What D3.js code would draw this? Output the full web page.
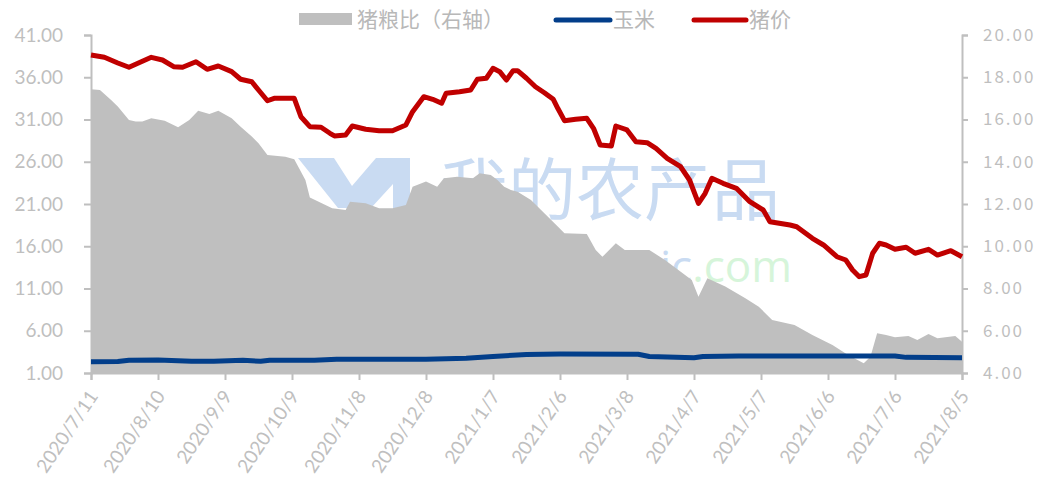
<!DOCTYPE html>
<html>
<head>
<meta charset="utf-8">
<script src="https://cdn.jsdelivr.net/npm/d3@7"></script>
<style>
  html, body { margin: 0; padding: 0; background: #fff; }
  svg { display: block; }
</style>
</head>
<body>
<svg id="chart" width="1048" height="489"></svg>
<script>
const xTickLabels = ['2020/7/11', '2020/8/10', '2020/9/9', '2020/10/9', '2020/11/8', '2020/12/8', '2021/1/7',
  '2021/2/6', '2021/3/8', '2021/4/7', '2021/5/7', '2021/6/6', '2021/7/6', '2021/8/5'];
const leftTicks = [1, 6, 11, 16, 21, 26, 31, 36, 41];
const rightTicks = [4, 6, 8, 10, 12, 14, 16, 18, 20];

// days counted from 2020/7/11
const pigDay = [0, 6, 12, 17, 21, 27, 32, 37, 41, 47, 52, 57, 63, 67, 72, 75, 79, 82, 91, 94,
  98, 103, 107, 109, 114, 117, 123, 129, 135, 141, 144, 149, 153, 157, 159, 165, 170, 173, 177, 180,
  183, 186, 189, 191, 195, 199, 203, 207, 209, 212, 217, 222, 225, 228, 233, 235, 240, 244, 249, 253,
  258, 264, 268, 272, 275, 278, 283, 289, 295, 301, 304, 313, 316, 323, 328, 334, 338, 341, 344, 347,
  350, 353, 356, 360, 365, 369, 375, 379, 385, 390];
const pigPrice = [38.63, 38.36, 37.69, 37.18, 37.65, 38.36, 38.04, 37.25, 37.18, 37.84, 36.94, 37.33, 36.66, 35.76, 35.47, 34.49, 33.22, 33.51, 33.51, 31.33,
  30.15, 30.08, 29.37, 29.05, 29.17, 30.23, 29.84, 29.67, 29.67, 30.35, 31.92, 33.70, 33.39, 32.92, 34.10, 34.29, 34.49, 35.76, 35.88, 37.06,
  36.66, 35.67, 36.78, 36.78, 35.88, 34.88, 34.17, 33.39, 32.33, 30.86, 31.02, 31.14, 29.96, 27.98, 27.86, 30.23, 29.76, 28.37, 28.25, 27.59,
  26.41, 25.41, 23.84, 21.08, 22.27, 24.04, 23.45, 22.86, 21.27, 20.29, 18.91, 18.51, 18.31, 16.94, 16.15, 14.76, 14.37, 13.19, 12.40, 12.60,
  15.17, 16.35, 16.15, 15.64, 15.88, 15.17, 15.64, 14.96, 15.47, 14.76];

const cornDay = [0, 12, 17, 30, 45, 55, 68, 76, 80, 100, 110, 150, 168, 180, 195, 210, 245, 250, 270, 274, 290, 360, 365, 390];
const cornPrice = [2.34, 2.36, 2.52, 2.54, 2.40, 2.40, 2.52, 2.38, 2.50, 2.50, 2.62, 2.64, 2.74, 2.95, 3.20, 3.25, 3.21, 2.95, 2.80, 2.95, 3.01, 3.01, 2.85, 2.80];

const ratioDay = [0, 4, 9, 12, 17, 20, 23, 27, 33, 39, 44, 48, 53, 57, 63, 67, 72, 75, 79, 87,
  91, 96, 98, 108, 114, 116, 123, 129, 135, 141, 144, 150, 155, 158, 164, 171, 174, 179, 182, 185,
  188, 191, 197, 203, 209, 212, 222, 226, 229, 235, 239, 250, 257, 269, 272, 276, 284, 293, 299, 305,
  315, 323, 332, 339, 346, 349, 352, 356, 360, 366, 370, 375, 379, 387, 390];
const pigGrainRatio = [17.43, 17.40, 16.92, 16.61, 15.98, 15.90, 15.90, 16.06, 15.94, 15.63, 15.98, 16.42, 16.26, 16.42, 16.06, 15.66, 15.19, 14.87, 14.32, 14.24,
  14.12, 13.14, 12.31, 11.80, 11.72, 12.11, 12.03, 11.80, 11.80, 11.95, 12.82, 13.06, 12.82, 13.22, 13.29, 13.22, 13.45, 13.37, 13.14, 12.82,
  12.66, 12.58, 12.19, 11.56, 10.93, 10.61, 10.58, 9.82, 9.50, 10.14, 9.82, 9.82, 9.35, 8.40, 7.61, 8.48, 8.09, 7.54, 7.14, 6.51,
  6.27, 5.80, 5.33, 4.85, 4.46, 4.77, 5.88, 5.80, 5.69, 5.75, 5.56, 5.85, 5.64, 5.75, 5.48];

const parseDate = d3.timeParse('%Y/%m/%d');
const startDate = parseDate(xTickLabels[0]);
const toDate = (n) => d3.timeDay.offset(startDate, n);

const svg = d3.select('#chart');
const plotLeft = 91, plotRight = 962, plotTop = 35, plotBottom = 373;
const axisColor = '#bfbfbf';

const x = d3.scaleTime()
  .domain([startDate, parseDate(xTickLabels[xTickLabels.length - 1])])
  .range([plotLeft, plotRight]);
const yLeft = d3.scaleLinear().domain([1, 41]).range([plotBottom, plotTop]);
const yRight = d3.scaleLinear().domain([4, 20]).range([plotBottom, plotTop]);

// watermark (behind the series)
const wm = svg.append('g').attr('class', 'watermark');
wm.append('path')
  .attr('d', 'M298,158 L334,158 L352,186 L376,158 L410,158 L410,208 L393,208 L393,184 L371,208 L338,208 Z')
  .attr('fill', '#c9dbf2');
wm.append('text')
  .attr('x', 440).attr('y', 215)
  .attr('font-family', 'Noto Sans CJK SC')
  .attr('font-size', 68)
  .attr('fill', '#c9dbf2')
  .text('我的农产品');
const url = wm.append('text')
  .attr('x', 792).attr('y', 282)
  .attr('text-anchor', 'end')
  .attr('font-family', 'Open Sans')
  .attr('font-size', 44)
  .attr('fill', '#c9dbf2');
url.append('tspan').text('www.myagric');
url.append('tspan').attr('fill', '#d6f5da').text('.com');

// 猪粮比 area on right axis
const ratioData = ratioDay.map((d, i) => ({ date: toDate(d), value: pigGrainRatio[i] }));
svg.append('path')
  .datum(ratioData)
  .attr('fill', '#bfbfbf')
  .attr('d', d3.area()
    .x((d) => x(d.date))
    .y0(yRight(4))
    .y1((d) => yRight(d.value)));

// axes
const xAxis = svg.append('g')
  .attr('transform', `translate(0,${plotBottom})`)
  .call(d3.axisBottom(x).tickValues(xTickLabels.map(parseDate)).tickSize(7).tickFormat(''));
xAxis.select('.domain').attr('stroke', axisColor).attr('stroke-width', 2);
xAxis.selectAll('.tick line').attr('stroke', axisColor).attr('stroke-width', 2);

svg.append('g').selectAll('text')
  .data(xTickLabels)
  .enter()
  .append('text')
  .attr('transform', (d) => `translate(${x(parseDate(d)) + 8},${plotBottom + 23}) rotate(-56)`)
  .attr('text-anchor', 'end')
  .attr('font-family', 'Lato')
  .attr('font-size', 19)
  .attr('fill', axisColor)
  .text((d) => d);

const yAxisL = svg.append('g')
  .attr('transform', `translate(${plotLeft},0)`)
  .call(d3.axisLeft(yLeft).tickValues(leftTicks).tickSize(7).tickPadding(21).tickFormat(d3.format('.2f')));
yAxisL.select('.domain').attr('stroke', axisColor).attr('stroke-width', 2);
yAxisL.selectAll('.tick line').attr('stroke', axisColor).attr('stroke-width', 2);
yAxisL.selectAll('.tick text')
  .attr('font-family', 'Lato').attr('font-size', 19).attr('fill', axisColor);

const yAxisR = svg.append('g')
  .attr('transform', `translate(${plotRight},0)`)
  .call(d3.axisRight(yRight).tickValues(rightTicks).tickSize(6).tickPadding(15).tickFormat(d3.format('.2f')));
yAxisR.select('.domain').attr('stroke', axisColor).attr('stroke-width', 2);
yAxisR.selectAll('.tick line').attr('stroke', axisColor).attr('stroke-width', 2);
yAxisR.selectAll('.tick text')
  .attr('font-family', 'Noto Sans CJK SC').attr('font-size', 17)
  .attr('letter-spacing', 2).attr('fill', axisColor);

// lines on left axis
const line = d3.line().x((d) => x(d.date)).y((d) => yLeft(d.value));
const cornData = cornDay.map((d, i) => ({ date: toDate(d), value: cornPrice[i] }));
const pigData = pigDay.map((d, i) => ({ date: toDate(d), value: pigPrice[i] }));

svg.append('path')
  .datum(cornData)
  .attr('fill', 'none')
  .attr('stroke', '#023e8a')
  .attr('stroke-width', 5)
  .attr('stroke-linejoin', 'round')
  .attr('d', line);

svg.append('path')
  .datum(pigData)
  .attr('fill', 'none')
  .attr('stroke', '#c00000')
  .attr('stroke-width', 5)
  .attr('stroke-linejoin', 'round')
  .attr('d', line);

// legend
const legend = svg.append('g').attr('font-family', 'Noto Sans CJK SC').attr('font-size', 21).attr('fill', '#b8b8b8');
legend.append('rect').attr('x', 299).attr('y', 13).attr('width', 53).attr('height', 12).attr('fill', '#bfbfbf');
legend.append('text').attr('x', 357).attr('y', 27).text('猪粮比（右轴）');
legend.append('line').attr('x1', 556).attr('x2', 610).attr('y1', 20).attr('y2', 20)
  .attr('stroke', '#023e8a').attr('stroke-width', 5).attr('stroke-linecap', 'round');
legend.append('text').attr('x', 613).attr('y', 27).text('玉米');
legend.append('line').attr('x1', 694).attr('x2', 746).attr('y1', 20).attr('y2', 20)
  .attr('stroke', '#c00000').attr('stroke-width', 5).attr('stroke-linecap', 'round');
legend.append('text').attr('x', 749).attr('y', 27).text('猪价');
</script>
</body>
</html>
